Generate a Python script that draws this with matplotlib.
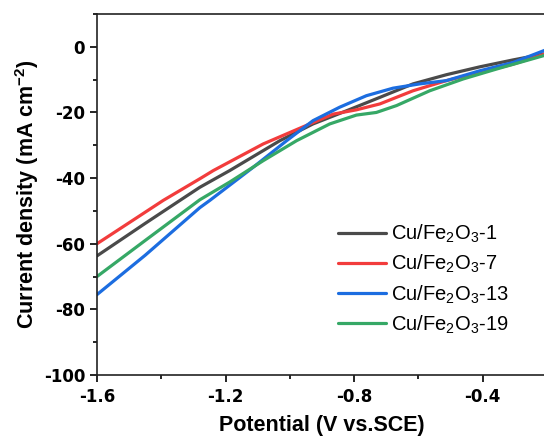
import matplotlib
matplotlib.use("Agg")
import matplotlib.pyplot as plt
from matplotlib.ticker import MultipleLocator

plt.rcParams['font.family'] = ['Liberation Sans', 'DejaVu Sans']
plt.rcParams['mathtext.fontset'] = 'custom'
plt.rcParams['mathtext.rm'] = 'Liberation Sans'
plt.rcParams['mathtext.bf'] = 'Liberation Sans:bold'

# potential (V vs SCE) and current density (mA cm-2)
v_1 = [-1.60, -1.45, -1.342, -1.28, -1.187, -1.031, -0.928, -0.824, -0.72, -0.617, -0.513, -0.409, -0.306, -0.20]
j_1 = [-63.7, -53.8, -46.8, -42.8, -37.7, -28.6, -23.5, -19.5, -15.4, -11.3, -8.5, -6.1, -4.0, -2.0]

v_7 = [-1.60, -1.50, -1.394, -1.28, -1.238, -1.083, -0.938, -0.865, -0.793, -0.72, -0.617, -0.513, -0.409, -0.306, -0.20]
j_7 = [-60.0, -53.6, -46.8, -40.2, -37.7, -29.6, -23.5, -20.5, -19.2, -17.4, -13.4, -10.3, -7.8, -5.3, -2.0]

v_13 = [-1.60, -1.45, -1.28, -1.249, -1.114, -1.010, -0.928, -0.845, -0.762, -0.679, -0.596, -0.513, -0.409, -0.306, -0.20]
j_13 = [-75.5, -63.5, -49.0, -46.8, -36.7, -28.6, -22.5, -18.4, -14.9, -12.6, -11.3, -10.3, -7.3, -4.8, -0.8]

v_19 = [-1.60, -1.45, -1.28, -1.187, -1.083, -0.979, -0.876, -0.793, -0.731, -0.668, -0.565, -0.461, -0.358, -0.20]
j_19 = [-70.0, -59.0, -46.6, -41.2, -34.7, -28.6, -23.5, -20.8, -20.0, -17.9, -13.4, -9.8, -6.8, -2.4]

labels = ['Cu/Fe$_2$O$_3$-1', 'Cu/Fe$_2$O$_3$-7', 'Cu/Fe$_2$O$_3$-13', 'Cu/Fe$_2$O$_3$-19']
colors = ['#4a4a4a', '#f23c3c', '#1c6de0', '#36a866']
xticks = [-1.6, -1.2, -0.8, -0.4]
yticks = [-100, -80, -60, -40, -20, 0]

fig = plt.figure(figsize=(5.44, 4.48), dpi=100)
ax = fig.add_axes([97/544, 73/448, 450/544, 361/448])

series = [(v_1, j_1), (v_7, j_7), (v_13, j_13), (v_19, j_19)]
for (v, j), lab, c in zip(series, labels, colors):
    ax.plot(v, j, color=c, lw=2.3, label=lab, solid_capstyle='round')

ax.set_xlim(-1.6, -0.2)
ax.set_ylim(-100, 10)
ax.xaxis.set_minor_locator(MultipleLocator(0.2))
ax.yaxis.set_minor_locator(MultipleLocator(10))
ax.set_xticks(xticks)
ax.set_xticklabels([f'{t:.1f}' for t in xticks])
ax.set_yticks(yticks)
ax.set_yticklabels([str(t) for t in yticks])

ax.tick_params(which='major', direction='out', length=5, width=1.2)
ax.tick_params(which='minor', direction='out', length=3, width=1.2)
ax.tick_params(axis='x', pad=4.5)
ax.tick_params(axis='y', pad=3.5)
for lbl in ax.get_xticklabels() + ax.get_yticklabels():
    lbl.set_fontfamily('DejaVu Sans')
    lbl.set_fontweight('bold')
    lbl.set_fontsize(12)
for s in ax.spines.values():
    s.set_linewidth(1.2)
    s.set_color('#222222')

ax.set_xlabel('Potential (V vs.SCE)', fontsize=15.5, fontweight='bold', labelpad=6)
ax.set_ylabel(r'Current density (mA cm$^{\mathbf{-2}}$)', fontsize=15.5, fontweight='bold', labelpad=2)

ax.legend(loc='upper left', bbox_to_anchor=(338/544, 1 - 223/448), bbox_transform=fig.transFigure,
          frameon=False, fontsize=14.5, handlelength=2.4, handletextpad=0.25,
          labelspacing=0.39, borderpad=0, borderaxespad=0)

fig.savefig('out.png', dpi=100)
